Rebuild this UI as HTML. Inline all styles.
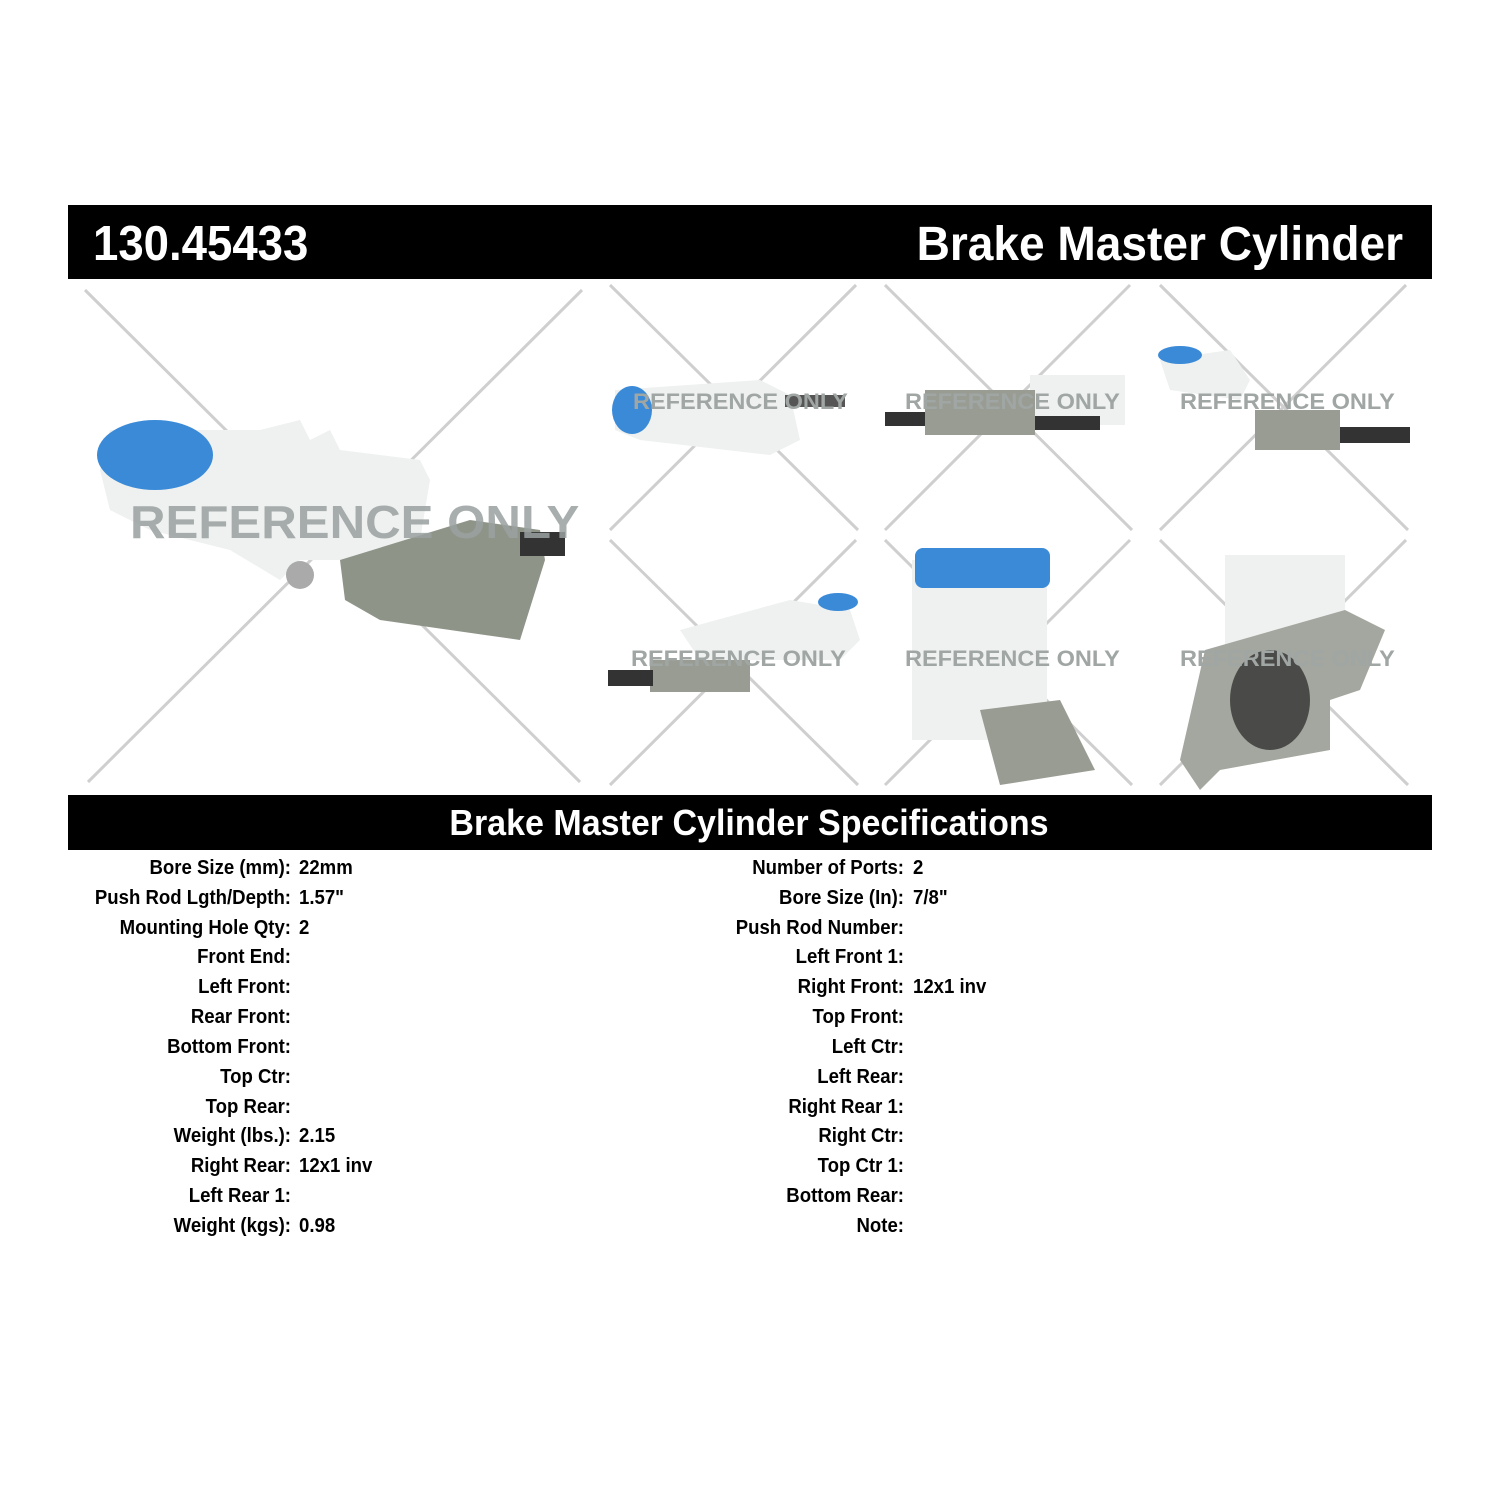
<!DOCTYPE html>
<html><head><meta charset="utf-8"><style>html,body{margin:0;padding:0;background:#fff}svg{display:block}</style></head>
<body>
<svg width="1500" height="1500" viewBox="0 0 1500 1500" xmlns="http://www.w3.org/2000/svg" font-family="Liberation Sans, Arial, sans-serif" font-weight="bold">
<rect width="1500" height="1500" fill="#fff"/>
<rect x="68" y="205" width="1364" height="74" fill="#000"/>
<g transform="translate(93,260) scale(0.93,1)"><text x="0" y="0" font-size="49" fill="#fff">130.45433</text></g>
<g transform="translate(1403,260) scale(0.96,1)"><text x="0" y="0" font-size="48" fill="#fff" text-anchor="end">Brake Master Cylinder</text></g>

<g stroke="#cfcfcf" stroke-width="3">
<line x1="85" y1="290" x2="580" y2="782"/><line x1="582" y1="290" x2="88" y2="782"/>
<line x1="610" y1="285" x2="858" y2="530"/><line x1="856" y1="285" x2="610" y2="530"/>
<line x1="885" y1="285" x2="1132" y2="530"/><line x1="1130" y1="285" x2="885" y2="530"/>
<line x1="1160" y1="285" x2="1408" y2="530"/><line x1="1406" y1="285" x2="1160" y2="530"/>
<line x1="610" y1="540" x2="858" y2="785"/><line x1="856" y1="540" x2="610" y2="785"/>
<line x1="885" y1="540" x2="1132" y2="785"/><line x1="1130" y1="540" x2="885" y2="785"/>
<line x1="1160" y1="540" x2="1408" y2="785"/><line x1="1406" y1="540" x2="1160" y2="785"/>
</g>

<path d="M100 470 L110 430 L260 430 L300 420 L310 440 L330 430 L340 450 L420 460 L430 480 L420 540 L380 560 L300 560 L280 580 L230 550 L150 530 L110 510 Z" fill="#eef1ef"/>
<ellipse cx="155" cy="455" rx="58" ry="35" fill="#3a8ad8"/>
<path d="M340 560 L470 520 L540 530 L545 560 L520 640 L380 620 L345 600 Z" fill="#8e9488"/>
<rect x="520" y="532" width="45" height="24" fill="#333"/>
<circle cx="300" cy="575" r="14" fill="#aaa"/>
<g transform="translate(130,538) scale(1.07,1)"><text font-size="46" fill="#9aa1a0" opacity="0.85">REFERENCE ONLY</text></g>

<path d="M615 390 L760 380 L790 395 L800 440 L770 455 L640 440 L615 430 Z" fill="#eef1ef"/>
<ellipse cx="632" cy="410" rx="20" ry="24" fill="#3a8ad8"/>
<rect x="785" y="395" width="60" height="12" fill="#555"/>
<rect x="1030" y="375" width="95" height="50" fill="#eef1ef"/>
<rect x="925" y="390" width="110" height="45" fill="#999c93"/>
<rect x="885" y="412" width="40" height="14" fill="#333"/><rect x="1035" y="416" width="65" height="14" fill="#333"/>
<path d="M1160 360 L1230 350 L1250 380 L1240 400 L1170 390 Z" fill="#eef1ef"/>
<ellipse cx="1180" cy="355" rx="22" ry="9" fill="#3a8ad8"/>
<rect x="1255" y="410" width="85" height="40" fill="#999c93"/>
<rect x="1340" y="427" width="70" height="16" fill="#333"/>

<path d="M680 630 L790 600 L850 610 L860 640 L840 660 L700 660 Z" fill="#eef1ef"/>
<ellipse cx="838" cy="602" rx="20" ry="9" fill="#3a8ad8"/>
<rect x="650" y="660" width="100" height="32" fill="#999c93"/>
<rect x="608" y="670" width="45" height="16" fill="#333"/>
<rect x="912" y="560" width="135" height="180" fill="#eef1ef"/>
<rect x="915" y="548" width="135" height="40" rx="8" fill="#3a8ad8"/>
<path d="M980 710 L1060 700 L1095 770 L1000 785 Z" fill="#999c93"/>
<rect x="1225" y="555" width="120" height="90" fill="#eef1ef"/>
<path d="M1205 650 L1345 610 L1385 630 L1360 690 L1330 700 L1330 750 L1220 770 L1200 790 L1180 760 Z" fill="#a4a79f"/>
<ellipse cx="1270" cy="700" rx="40" ry="50" fill="#4a4a48"/>

<g fill="#a0a6a4" font-size="22">
<text transform="translate(633,409) scale(1.07,1)">REFERENCE ONLY</text>
<text transform="translate(905,409) scale(1.07,1)">REFERENCE ONLY</text>
<text transform="translate(1180,409) scale(1.07,1)">REFERENCE ONLY</text>
<text transform="translate(631,666) scale(1.07,1)">REFERENCE ONLY</text>
<text transform="translate(905,666) scale(1.07,1)">REFERENCE ONLY</text>
<text transform="translate(1180,666) scale(1.07,1)">REFERENCE ONLY</text>
</g>

<rect x="68" y="795" width="1364" height="55" fill="#000"/>
<g transform="translate(749,835) scale(0.945,1)"><text x="0" y="0" font-size="36" fill="#fff" text-anchor="middle">Brake Master Cylinder Specifications</text></g>

<g font-size="20" fill="#000">
<g transform="translate(291,0) scale(0.93,1)" text-anchor="end">
<text y="874">Bore Size (mm):</text><text y="904">Push Rod Lgth/Depth:</text><text y="934">Mounting Hole Qty:</text><text y="963">Front End:</text><text y="993">Left Front:</text><text y="1023">Rear Front:</text><text y="1053">Bottom Front:</text><text y="1083">Top Ctr:</text><text y="1113">Top Rear:</text><text y="1142">Weight (lbs.):</text><text y="1172">Right Rear:</text><text y="1202">Left Rear 1:</text><text y="1232">Weight (kgs):</text>
</g>
<g transform="translate(299,0) scale(0.93,1)">
<text y="874">22mm</text><text y="904">1.57"</text><text y="934">2</text><text y="1142">2.15</text><text y="1172">12x1 inv</text><text y="1232">0.98</text>
</g>
<g transform="translate(904,0) scale(0.93,1)" text-anchor="end">
<text y="874">Number of Ports:</text><text y="904">Bore Size (In):</text><text y="934">Push Rod Number:</text><text y="963">Left Front 1:</text><text y="993">Right Front:</text><text y="1023">Top Front:</text><text y="1053">Left Ctr:</text><text y="1083">Left Rear:</text><text y="1113">Right Rear 1:</text><text y="1142">Right Ctr:</text><text y="1172">Top Ctr 1:</text><text y="1202">Bottom Rear:</text><text y="1232">Note:</text>
</g>
<g transform="translate(913,0) scale(0.93,1)">
<text y="874">2</text><text y="904">7/8"</text><text y="993">12x1 inv</text>
</g>
</g>
</svg>
</body></html>
